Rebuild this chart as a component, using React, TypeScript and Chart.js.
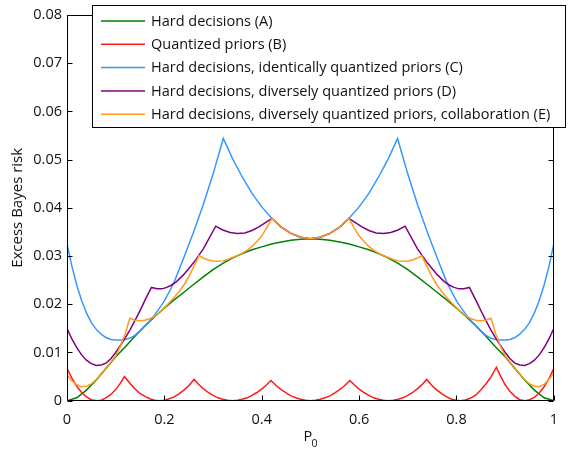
import React, { useEffect, useRef } from "react";
import { Chart, registerables } from "chart.js";

Chart.register(...registerables);

const FONT = '"Open Sans", sans-serif';

const seriesLabels = [
  "Hard decisions (A)",
  "Quantized priors (B)",
  "Hard decisions, identically quantized priors (C)",
  "Hard decisions, diversely quantized priors (D)",
  "Hard decisions, diversely quantized priors, collaboration (E)",
];
const seriesColors = ["#008000", "#ff1a1a", "#3399ff", "#800080", "#ff9922"];

const xTicks = [0, 0.2, 0.4, 0.6, 0.8, 1];
const xTickLabels = ["0", "0.2", "0.4", "0.6", "0.8", "1"];
const yTicks = [0, 0.01, 0.02, 0.03, 0.04, 0.05, 0.06, 0.07, 0.08];
const yTickLabels = ["0", "0.01", "0.02", "0.03", "0.04", "0.05", "0.06", "0.07", "0.08"];

// (A) Hard decisions
const hardP = [0,0.02,0.04,0.06,0.08,0.10,0.12,0.14,0.16,0.18,0.20,0.22,0.24,0.26,0.28,0.30,0.32,0.34,0.36,0.38,0.40,0.42,0.44,0.46,0.48,0.50,0.52,0.54,0.56,0.58,0.60,0.62,0.64,0.66,0.68,0.70,0.72,0.74,0.76,0.78,0.80,0.82,0.84,0.86,0.88,0.90,0.92,0.94,0.96,0.98,1.00];
const hardRisk = [0,0.0006,0.0022,0.0043,0.0067,0.0091,0.0112,0.0134,0.0155,0.0174,0.0192,0.0209,0.0225,0.0241,0.0257,0.0272,0.0285,0.0296,0.0305,0.0313,0.0319,0.0325,0.0329,0.0333,0.0335,0.0336,0.0335,0.0333,0.0329,0.0325,0.0319,0.0313,0.0305,0.0296,0.0285,0.0272,0.0257,0.0241,0.0225,0.0209,0.0192,0.0174,0.0155,0.0134,0.0112,0.0091,0.0067,0.0043,0.0022,0.0006,0];

// (B) Quantized priors
const quantP = [0,0.01,0.02,0.03,0.04,0.05,0.061,0.07,0.08,0.09,0.10,0.11,0.118,0.13,0.14,0.15,0.16,0.17,0.18,0.19,0.20,0.21,0.22,0.23,0.24,0.25,0.261,0.27,0.28,0.29,0.30,0.31,0.32,0.33,0.339,0.35,0.36,0.37,0.38,0.39,0.40,0.41,0.419,0.43,0.44,0.45,0.46,0.47,0.48,0.49,0.50,0.51,0.52,0.53,0.54,0.55,0.56,0.57,0.581,0.59,0.60,0.61,0.62,0.63,0.64,0.65,0.661,0.67,0.68,0.69,0.70,0.71,0.72,0.73,0.739,0.75,0.76,0.77,0.78,0.79,0.80,0.809,0.82,0.83,0.84,0.85,0.86,0.87,0.882,0.89,0.90,0.91,0.92,0.93,0.941,0.95,0.96,0.97,0.98,0.99,1.0];
const quantRisk = [0.0067,0.0047,0.0030,0.0017,0.0008,0.0002,0,0.0001,0.0006,0.0013,0.0023,0.0037,0.0050,0.0035,0.0024,0.0015,0.0009,0.0004,0.0001,0,0.0001,0.0004,0.0008,0.0014,0.0022,0.0031,0.0044,0.0034,0.0025,0.0017,0.0011,0.0006,0.0003,0.0001,0,0.0001,0.0003,0.0006,0.0011,0.0017,0.0024,0.0033,0.0042,0.0031,0.0023,0.0016,0.0010,0.0006,0.0003,0.0001,0,0.0001,0.0003,0.0006,0.0010,0.0016,0.0023,0.0031,0.0042,0.0033,0.0024,0.0017,0.0011,0.0006,0.0003,0.0001,0,0.0001,0.0003,0.0006,0.0011,0.0017,0.0025,0.0034,0.0044,0.0031,0.0022,0.0014,0.0008,0.0003,0.0001,0,0.0002,0.0006,0.0012,0.0022,0.0034,0.0048,0.0069,0.0052,0.0033,0.0019,0.0009,0.0002,0,0.0002,0.0007,0.0016,0.0029,0.0046,0.0067];

// (C) Hard decisions, identically quantized priors
const identP = [0,0.01,0.02,0.03,0.04,0.05,0.06,0.07,0.08,0.09,0.10,0.11,0.12,0.13,0.14,0.15,0.16,0.17,0.18,0.19,0.20,0.21,0.22,0.24,0.26,0.28,0.30,0.321,0.34,0.36,0.38,0.40,0.421,0.44,0.46,0.48,0.50,0.52,0.54,0.56,0.579,0.60,0.62,0.64,0.66,0.679,0.70,0.72,0.74,0.76,0.78,0.79,0.80,0.81,0.82,0.83,0.84,0.85,0.86,0.87,0.88,0.89,0.90,0.91,0.92,0.93,0.94,0.95,0.96,0.97,0.98,0.99,1.0];
const identRisk = [0.0325,0.0279,0.0240,0.0208,0.0182,0.0162,0.0148,0.0138,0.0131,0.0127,0.0126,0.0126,0.0127,0.0130,0.0136,0.0145,0.0156,0.0166,0.0178,0.0192,0.0207,0.0226,0.0246,0.0297,0.0350,0.0407,0.0470,0.0544,0.0502,0.0464,0.0430,0.0402,0.0378,0.0360,0.0347,0.0339,0.0336,0.0339,0.0347,0.0360,0.0378,0.0402,0.0430,0.0464,0.0502,0.0544,0.0470,0.0407,0.0350,0.0297,0.0246,0.0226,0.0207,0.0192,0.0178,0.0166,0.0156,0.0145,0.0136,0.0130,0.0127,0.0126,0.0126,0.0127,0.0131,0.0138,0.0148,0.0162,0.0182,0.0208,0.0240,0.0279,0.0325];

// (D) Hard decisions, diversely quantized priors
const diverseP = [0,0.01,0.02,0.03,0.04,0.05,0.06,0.07,0.08,0.09,0.10,0.11,0.12,0.13,0.14,0.15,0.16,0.1735,0.185,0.195,0.205,0.215,0.225,0.24,0.26,0.28,0.3055,0.32,0.335,0.35,0.365,0.38,0.395,0.41,0.421,0.44,0.46,0.48,0.50,0.52,0.54,0.56,0.579,0.59,0.605,0.62,0.635,0.65,0.665,0.68,0.6945,0.72,0.74,0.76,0.775,0.785,0.795,0.805,0.815,0.8265,0.84,0.85,0.86,0.87,0.88,0.89,0.90,0.91,0.92,0.93,0.94,0.95,0.96,0.97,0.98,0.99,1.0];
const diverseRisk = [0.0150,0.0128,0.0110,0.0095,0.0084,0.0077,0.0073,0.0074,0.0078,0.0087,0.0100,0.0115,0.0131,0.0148,0.0167,0.0187,0.0208,0.0235,0.0232,0.0232,0.0235,0.0240,0.0247,0.0262,0.0286,0.0315,0.0362,0.0354,0.0349,0.0347,0.0348,0.0353,0.0361,0.0371,0.0378,0.0360,0.0347,0.0339,0.0336,0.0339,0.0347,0.0360,0.0378,0.0371,0.0361,0.0353,0.0348,0.0347,0.0349,0.0354,0.0362,0.0315,0.0286,0.0262,0.0247,0.0240,0.0235,0.0232,0.0232,0.0235,0.0208,0.0187,0.0167,0.0148,0.0131,0.0115,0.0100,0.0087,0.0078,0.0074,0.0073,0.0077,0.0084,0.0095,0.0110,0.0128,0.0150];

// (E) Hard decisions, diversely quantized priors, collaboration
const collabP = [0,0.01,0.02,0.03,0.04,0.05,0.06,0.07,0.08,0.09,0.10,0.11,0.12,0.129,0.14,0.15,0.16,0.17,0.18,0.19,0.20,0.21,0.22,0.23,0.24,0.25,0.26,0.2714,0.28,0.29,0.30,0.31,0.32,0.33,0.34,0.35,0.36,0.37,0.38,0.39,0.40,0.41,0.421,0.44,0.46,0.48,0.50,0.52,0.54,0.56,0.579,0.59,0.60,0.61,0.62,0.63,0.64,0.65,0.66,0.67,0.68,0.69,0.70,0.71,0.72,0.7286,0.74,0.75,0.76,0.77,0.78,0.79,0.80,0.81,0.82,0.83,0.84,0.85,0.86,0.871,0.88,0.89,0.90,0.91,0.92,0.93,0.94,0.95,0.96,0.97,0.98,0.99,1.0];
const collabRisk = [0.0053,0.0041,0.0033,0.0029,0.0030,0.0035,0.0044,0.0056,0.0068,0.0080,0.0093,0.0114,0.0140,0.0171,0.0167,0.0166,0.0167,0.0170,0.0175,0.0183,0.0193,0.0203,0.0214,0.0226,0.0240,0.0257,0.0277,0.0301,0.0296,0.0292,0.0290,0.0289,0.0290,0.0293,0.0297,0.0301,0.0306,0.0312,0.0320,0.0330,0.0342,0.0358,0.0378,0.0360,0.0347,0.0339,0.0336,0.0339,0.0347,0.0360,0.0378,0.0358,0.0342,0.0330,0.0320,0.0312,0.0306,0.0301,0.0297,0.0293,0.0290,0.0289,0.0290,0.0292,0.0296,0.0301,0.0277,0.0257,0.0240,0.0226,0.0214,0.0203,0.0193,0.0183,0.0175,0.0170,0.0167,0.0166,0.0167,0.0171,0.0140,0.0114,0.0093,0.0080,0.0068,0.0056,0.0044,0.0035,0.0030,0.0029,0.0034,0.0044,0.0058];

const seriesP = [hardP, quantP, identP, diverseP, collabP];
const seriesRisk = [hardRisk, quantRisk, identRisk, diverseRisk, collabRisk];

const TICK_FONT_SIZE = 14.5;
const LEGEND_FONT_SIZE = 14.5;

const framePlugin = {
  id: "frameTicks",
  afterDatasetsDraw(chart: any) {
    const { ctx, chartArea, scales } = chart;
    const { left, right, top, bottom } = chartArea;
    const L = Math.round(left) + 0.5;
    const R = Math.round(right) - 0.5;
    const T = Math.round(top) + 0.5;
    const B = Math.round(bottom) - 0.5;
    ctx.save();
    ctx.strokeStyle = "#000";
    ctx.lineWidth = 1;
    ctx.beginPath();
    ctx.rect(L, T, R - L, B - T);
    ctx.stroke();
    ctx.beginPath();
    yTicks.forEach((v) => {
      const py = Math.round(scales.y.getPixelForValue(v)) + 0.5;
      ctx.moveTo(L, py);
      ctx.lineTo(L + 5, py);
      ctx.moveTo(R, py);
      ctx.lineTo(R - 5, py);
    });
    xTicks.forEach((v) => {
      const px = Math.round(scales.x.getPixelForValue(v)) + 0.5;
      ctx.moveTo(px, B);
      ctx.lineTo(px, B - 5);
      ctx.moveTo(px, T);
      ctx.lineTo(px, T + 5);
    });
    ctx.stroke();
    ctx.restore();
  },
  afterDraw(chart: any) {
    const { ctx, chartArea } = chart;
    ctx.save();
    // legend
    ctx.fillStyle = "#fff";
    ctx.fillRect(92, 5, 474, 123);
    ctx.strokeStyle = "#000";
    ctx.lineWidth = 1;
    ctx.strokeRect(92.5, 5.5, 473, 122);
    ctx.font = `${LEGEND_FONT_SIZE}px ${FONT}`;
    ctx.textBaseline = "middle";
    ctx.textAlign = "left";
    chart.data.datasets.forEach((ds: any, i: number) => {
      const yy = 21 + i * 23.3;
      ctx.strokeStyle = ds.borderColor;
      ctx.lineWidth = 1.5;
      ctx.beginPath();
      ctx.moveTo(101, yy);
      ctx.lineTo(145, yy);
      ctx.stroke();
      ctx.fillStyle = "#111";
      ctx.fillText(ds.label, 151, yy + 0.5);
    });
    // y title
    ctx.fillStyle = "#111";
    ctx.font = `15px ${FONT}`;
    ctx.save();
    ctx.translate(18, (chartArea.top + chartArea.bottom) / 2);
    ctx.rotate(-Math.PI / 2);
    ctx.textAlign = "center";
    ctx.textBaseline = "middle";
    ctx.fillText("Excess Bayes risk", 0, 0);
    ctx.restore();
    // x title P0
    const cx = (chartArea.left + chartArea.right) / 2;
    ctx.textAlign = "left";
    ctx.textBaseline = "alphabetic";
    ctx.font = `${TICK_FONT_SIZE}px ${FONT}`;
    ctx.fillText("P", cx - 7, 441);
    ctx.font = `${TICK_FONT_SIZE - 4}px ${FONT}`;
    ctx.fillText("0", cx + 1, 447);
    ctx.restore();
  },
};

export default function App() {
  const canvasRef = useRef<HTMLCanvasElement | null>(null);

  useEffect(() => {
    const canvas = canvasRef.current;
    if (!canvas) return;
    const datasets = seriesLabels.map((label, i) => ({
      label,
      data: seriesP[i].map((p, j) => ({ x: p, y: seriesRisk[i][j] })),
      borderColor: seriesColors[i],
      backgroundColor: seriesColors[i],
      borderWidth: 1.5,
      pointRadius: 0,
      tension: 0,
      fill: false,
      order: 5 - i,
    }));
    const chart = new Chart(canvas, {
      type: "line",
      data: { datasets },
      options: {
        animation: false,
        responsive: false,
        maintainAspectRatio: false,
        layout: { padding: { top: 15, right: 11, left: 0, bottom: 0 } },
        plugins: {
          legend: { display: false },
          tooltip: { enabled: false },
          title: { display: false },
        },
        scales: {
          x: {
            type: "linear",
            min: 0,
            max: 1,
            afterFit: (s: any) => {
              s.height = 49.3;
            },
            afterBuildTicks: (s: any) => {
              s.ticks = xTicks.map((v) => ({ value: v }));
            },
            grid: { display: false, drawTicks: false },
            border: { display: false },
            ticks: {
              padding: 10,
              color: "#111",
              font: { family: FONT, size: TICK_FONT_SIZE },
              maxRotation: 0,
              callback: (_v: any, idx: number) => xTickLabels[idx],
            },
          },
          y: {
            type: "linear",
            min: 0,
            max: 0.08,
            afterFit: (s: any) => {
              s.width = 67;
            },
            afterBuildTicks: (s: any) => {
              s.ticks = yTicks.map((v) => ({ value: v }));
            },
            grid: { display: false, drawTicks: false },
            border: { display: false },
            ticks: {
              padding: 5,
              color: "#111",
              font: { family: FONT, size: TICK_FONT_SIZE },
              callback: (_v: any, idx: number) => yTickLabels[idx],
            },
          },
        },
      },
      plugins: [framePlugin],
    });
    return () => chart.destroy();
  }, []);

  return (
    <div style={{ position: "fixed", left: 0, top: 0, width: 568, height: 450, background: "#fff" }}>
      <canvas ref={canvasRef} width={568} height={450} style={{ display: "block", width: 568, height: 450 }} />
    </div>
  );
}
